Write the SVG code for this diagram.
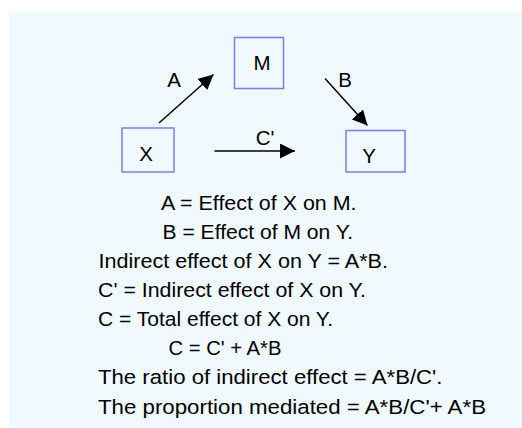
<svg xmlns="http://www.w3.org/2000/svg" width="522" height="428" viewBox="0 0 522 428">
<defs>
<style>
.box{fill:none;stroke:#7b7bff;stroke-width:1.5}
.t{font-family:"Liberation Sans",Arial,sans-serif;font-size:20.5px;fill:#000}
.c{stroke:#000;stroke-width:1.5;fill:none}
</style>
<marker id="ah" viewBox="0 0 10 10" refX="10" refY="5" markerWidth="15" markerHeight="15" markerUnits="userSpaceOnUse" orient="auto">
<path d="M0,0 L10,5 L0,10 z" fill="#000"/>
</marker>
</defs>
<rect x="0" y="0" width="522" height="428" fill="#fff"/>
<rect x="9" y="12" width="513" height="416" fill="#eff9fe"/>
<g id="node-M"><rect class="box" x="234.5" y="37.5" width="49" height="51"/><text class="t" x="262" y="70" text-anchor="middle">M</text></g>
<g id="node-X"><rect class="box" x="122" y="128" width="52" height="44"/><text class="t" x="146" y="161" text-anchor="middle">X</text></g>
<g id="node-Y"><rect class="box" x="346" y="130.5" width="59" height="41.5"/><text class="t" x="369" y="163" text-anchor="middle">Y</text></g>
<g id="connectors">
<line class="c" x1="159" y1="123" x2="213.5" y2="74.5" marker-end="url(#ah)"/>
<line class="c" x1="325" y1="78.5" x2="367.5" y2="125.5" marker-end="url(#ah)"/>
<line class="c" x1="214.5" y1="151" x2="295" y2="151" marker-end="url(#ah)"/>
<text class="t" x="174" y="87" text-anchor="middle">A</text>
<text class="t" x="345" y="87" text-anchor="middle">B</text>
<text class="t" x="265" y="145" text-anchor="middle">C'</text>
</g>
<g id="notes">
<text class="t" x="161" y="210" textLength="195.5" lengthAdjust="spacingAndGlyphs">A = Effect of X on M.</text>
<text class="t" x="162.5" y="238.5" textLength="190.5" lengthAdjust="spacingAndGlyphs">B = Effect of M on Y.</text>
<text class="t" x="98.5" y="267.5" textLength="289.5" lengthAdjust="spacingAndGlyphs">Indirect effect of X on Y = A*B.</text>
<text class="t" x="98" y="296.5" textLength="268" lengthAdjust="spacingAndGlyphs">C' = Indirect effect of X on Y.</text>
<text class="t" x="98" y="326" textLength="235" lengthAdjust="spacingAndGlyphs">C = Total effect of X on Y.</text>
<text class="t" x="168.5" y="355" textLength="113" lengthAdjust="spacingAndGlyphs">C = C' + A*B</text>
<text class="t" x="98" y="384" textLength="344.5" lengthAdjust="spacingAndGlyphs">The ratio of indirect effect = A*B/C'.</text>
<text class="t" x="98" y="413.5" textLength="388" lengthAdjust="spacingAndGlyphs">The proportion mediated = A*B/C'+ A*B</text>
</g>
</svg>
